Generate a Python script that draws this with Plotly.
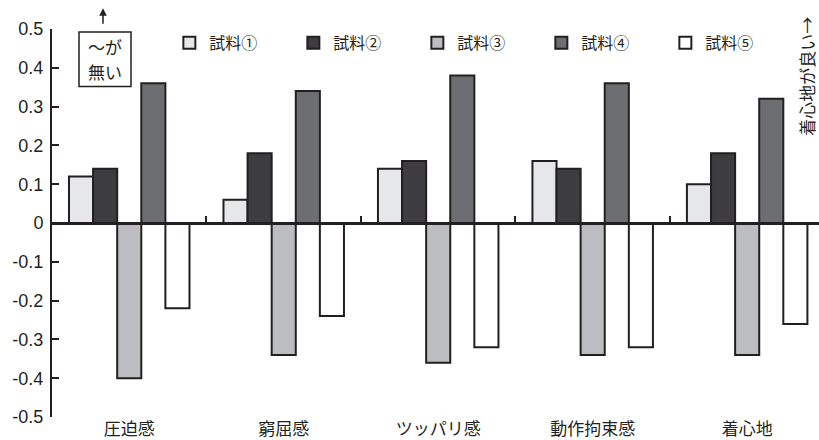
import plotly.graph_objects as go

categories = ["圧迫感", "窮屈感", "ツッパリ感", "動作拘束感", "着心地"]
series_names = ["試料①", "試料②", "試料③", "試料④", "試料⑤"]
s1 = [0.12, 0.06, 0.14, 0.16, 0.10]
s2 = [0.14, 0.18, 0.16, 0.14, 0.18]
s3 = [-0.40, -0.34, -0.36, -0.34, -0.34]
s4 = [0.36, 0.34, 0.38, 0.36, 0.32]
s5 = [-0.22, -0.24, -0.32, -0.32, -0.26]
y_tickvals = [-0.5, -0.4, -0.3, -0.2, -0.1, 0, 0.1, 0.2, 0.3, 0.4, 0.5]
y_ticktext = ["-0.5", "-0.4", "-0.3", "-0.2", "-0.1", "0", "0.1", "0.2", "0.3", "0.4", "0.5"]
boundary_ticks = [0.5, 1.5, 2.5, 3.5]

colors = ["#e6e7e8", "#3d3d3f", "#bcbdc0", "#6d6e71", "#ffffff"]
ink = "#231f20"
cjk = "Noto Sans CJK JP"
latin = "Liberation Sans"

# pixel helpers for the plot area (l=52, t=29, w=767, h=391)
def px(x):
    return (x - 52) / 767

def py(y):
    return (420 - y) / 391

fig = go.Figure()
for name, vals, col in zip(series_names, [s1, s2, s3, s4, s5], colors):
    fig.add_trace(go.Bar(
        x=categories, y=vals, name=name,
        marker=dict(color=col, line=dict(color=ink, width=2)),
    ))
# empty trace so the zero-level x axis (category separators) is drawn
fig.add_trace(go.Scatter(x=[], y=[], xaxis="x2", showlegend=False, hoverinfo="skip"))

fig.update_layout(
    width=819, height=440,
    margin=dict(l=52, r=0, t=29, b=20),
    paper_bgcolor="white", plot_bgcolor="white",
    barmode="group", bargap=0.22, bargroupgap=0,
    showlegend=True,
    legend=dict(
        orientation="h", x=0.153, y=py(43), xanchor="left", yanchor="middle",
        font=dict(family=cjk, size=16, color=ink),
        entrywidth=79, entrywidthmode="pixels",
        itemwidth=30, bgcolor="rgba(0,0,0,0)", traceorder="normal",
    ),
    xaxis=dict(
        type="category", range=[-0.5, 4.465], showline=False, ticks="",
        showgrid=False, zeroline=False,
        tickfont=dict(family=cjk, size=17, color=ink),
    ),
    xaxis2=dict(
        overlaying="x", anchor="free", position=0.5, side="top",
        range=[-0.5, 4.465], showline=True, linecolor=ink, linewidth=2.5,
        tickmode="array", tickvals=boundary_ticks, ticks="outside", ticklen=6,
        tickwidth=1.5, tickcolor=ink, showticklabels=False, showgrid=False,
        zeroline=False,
    ),
    yaxis=dict(
        range=[-0.5, 0.5], tickmode="array", tickvals=y_tickvals, ticktext=y_ticktext,
        showline=True, linecolor=ink, linewidth=2, ticks="inside", ticklen=7,
        tickwidth=2, tickcolor=ink, showgrid=False, zeroline=False,
        tickfont=dict(family=latin, size=18, color=ink), ticklabelstandoff=3,
    ),
    shapes=[
        dict(type="rect", xref="paper", yref="paper",
             x0=px(79), x1=px(131), y0=py(87), y1=py(32),
             line=dict(color=ink, width=1.5), fillcolor="white", layer="above"),
    ],
    annotations=[
        dict(xref="paper", yref="paper", x=px(105), y=py(47),
             text="〜が", showarrow=False, xanchor="center", yanchor="middle",
             font=dict(family=cjk, size=17, color=ink)),
        dict(xref="paper", yref="paper", x=px(105), y=py(72),
             text="無い", showarrow=False, xanchor="center", yanchor="middle",
             font=dict(family=cjk, size=17, color=ink)),
        dict(xref="paper", yref="paper", x=px(103), y=py(8),
             axref="pixel", ayref="pixel", ax=0, ay=17, text="", showarrow=True,
             arrowhead=2, arrowsize=1, arrowwidth=1.5, arrowcolor=ink, standoff=0),
        dict(xref="paper", yref="paper", x=px(807), y=py(77),
             text="着心地が良い→", showarrow=False, textangle=-90,
             xanchor="center", yanchor="middle",
             font=dict(family=cjk, size=17, color=ink)),
    ],
)

fig.write_html("out.html")
